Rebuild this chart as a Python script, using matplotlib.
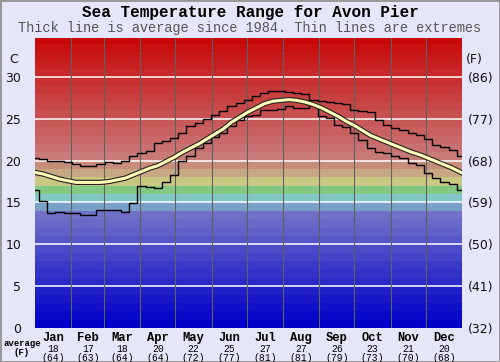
import numpy as np
import matplotlib.pyplot as plt
from matplotlib import patheffects as pe

# weekly sea temperatures (C), day of year = week * 7
week_day = [i * 7 for i in range(53)]
sea_min = [16.5, 15.2, 13.8, 13.9, 13.8, 13.8, 13.5, 13.5, 14.1, 14.1,
           14.1, 13.9, 14.9, 17.0, 16.9, 16.7, 17.5, 18.3, 19.9, 20.5,
           21.5, 22.1, 22.8, 23.3, 24.1, 24.9, 25.3, 25.5, 26.0, 26.0,
           26.2, 26.5, 26.3, 26.3, 26.6, 25.3, 25.1, 24.3, 24.0, 23.3,
           22.5, 21.5, 21.0, 20.9, 20.5, 20.3, 19.7, 19.5, 18.5, 17.9,
           17.5, 17.2, 16.5]
sea_avg = [18.6, 18.4, 18.1, 17.8, 17.6, 17.4, 17.4, 17.4, 17.4, 17.5,
           17.7, 17.9, 18.3, 18.7, 19.1, 19.4, 19.9, 20.4, 21.0, 21.5,
           22.0, 22.6, 23.2, 23.8, 24.6, 25.2, 25.8, 26.3, 26.8, 27.1,
           27.2, 27.3, 27.2, 27.0, 26.7, 26.3, 25.8, 25.3, 24.7, 24.2,
           23.6, 23.0, 22.6, 22.2, 21.8, 21.4, 21.0, 20.7, 20.3, 19.9,
           19.5, 19.1, 18.6]
sea_max = [20.3, 20.2, 20.0, 19.9, 19.8, 19.6, 19.4, 19.4, 19.6, 19.8,
           19.7, 20.0, 20.5, 20.9, 21.1, 22.1, 22.3, 22.7, 23.3, 24.1,
           24.5, 25.0, 25.4, 25.9, 26.5, 26.9, 27.2, 27.7, 28.1, 28.3,
           28.3, 28.2, 28.1, 28.0, 27.3, 27.1, 27.0, 26.9, 26.8, 26.0,
           25.9, 25.8, 24.9, 24.3, 23.9, 23.7, 23.3, 23.1, 22.6, 21.9,
           21.6, 21.3, 20.5]

months = ["Jan", "Feb", "Mar", "Apr", "May", "Jun",
          "Jul", "Aug", "Sep", "Oct", "Nov", "Dec"]
month_avg_c = [18, 17, 18, 20, 22, 25, 27, 27, 26, 23, 21, 20]
month_avg_f = [64, 63, 64, 64, 72, 77, 81, 81, 79, 73, 70, 68]
month_starts = [0, 31, 59, 90, 120, 151, 181, 212, 243, 273, 304, 334, 365]

c_ticks = [0, 5, 10, 15, 20, 25, 30]
f_labels = ["(32)", "(41)", "(50)", "(59)", "(68)", "(77)", "(86)"]

# one colour band per degree C
band_colors = [
    "#0000c8", "#0808c8", "#1010c8", "#1818c8", "#2020c8",
    "#2a2ac8", "#3232c8", "#3a3ac8", "#4444c8", "#4c4cc8",
    "#5656c8", "#6060c8", "#6868c8", "#7070c8", "#78a0c8",
    "#82c8c8", "#82c882", "#c8c882", "#c8a882", "#c88c7a",
    "#c87a76", "#c87070", "#c86868", "#c86060", "#c85858",
    "#c85050", "#c84848", "#c84040", "#c83838", "#c83030",
    "#c82828", "#c82020", "#c81818", "#c81010", "#c80808",
]

bg = "#e6e6fa"
fig = plt.figure(figsize=(5, 3.62), dpi=100, facecolor=bg,
                 edgecolor="#999999", linewidth=1)
ax = fig.add_axes([0.07, 0.094, 0.854, 0.801])

for t, col in enumerate(band_colors):
    ax.axhspan(t, t + 1, color=col, lw=0, zorder=0)

for t in c_ticks[1:]:
    ax.axhline(t, color="white", lw=1.1, zorder=1)
for d in month_starts[1:-1]:
    ax.axvline(d, color="#606060", lw=0.8, zorder=1)

ax.plot(week_day, sea_max, color="black", lw=1.0, drawstyle="steps-mid", zorder=3)
ax.plot(week_day, sea_min, color="black", lw=1.0, drawstyle="steps-mid", zorder=3)
ax.plot(week_day, sea_avg, color="#ffffb8", lw=2.2, zorder=4,
        path_effects=[pe.Stroke(linewidth=3.8, foreground="#222222"), pe.Normal()])

ax.set_xlim(0, 365)
ax.set_ylim(0, 34.66)
ax.set_xticks([])
ax.set_yticks(c_ticks)
ax.set_yticklabels([str(t) for t in c_ticks], fontsize=9, color="#111111")
ax.tick_params(axis="y", length=0, pad=10)
for s in ax.spines.values():
    s.set_visible(False)

ax2 = ax.twinx()
ax2.set_ylim(ax.get_ylim())
ax2.set_yticks(c_ticks)
ax2.set_yticklabels(f_labels, fontsize=9, color="#111111")
ax2.tick_params(axis="y", length=0, pad=4)
for s in ax2.spines.values():
    s.set_visible(False)

ax.text(-0.04, 32.1, "C", transform=ax.get_yaxis_transform(),
        ha="right", va="center", fontsize=9, color="#111111")
ax.text(1.01, 32.1, "(F)", transform=ax.get_yaxis_transform(),
        ha="left", va="center", fontsize=9, color="#111111")

trans = ax.get_xaxis_transform()
for i, m in enumerate(months):
    mid = (month_starts[i] + month_starts[i + 1]) / 2
    ax.text(mid, -0.013, m, transform=trans, ha="center", va="top",
            family="Liberation Mono", fontweight="bold", fontsize=8.7)
    ax.text(mid, -0.055, str(month_avg_c[i]), transform=trans, ha="center",
            va="top", family="Liberation Mono", fontsize=7)
    ax.text(mid, -0.088, "(%d)" % month_avg_f[i], transform=trans, ha="center",
            va="top", family="Liberation Mono", fontsize=7)

fig.text(0.044, 0.052, "average", ha="center", va="center",
         family="Liberation Mono", fontweight="bold", fontsize=6.5)
fig.text(0.044, 0.027, "(F)", ha="center", va="center",
         family="Liberation Mono", fontweight="bold", fontsize=6.5)

fig.text(0.5, 0.965, "Sea Temperature Range for Avon Pier", ha="center",
         va="center", family="Liberation Mono", fontweight="bold", fontsize=11.5)
fig.text(0.5, 0.922, "Thick line is average since 1984. Thin lines are extremes",
         ha="center", va="center", family="Liberation Mono", fontsize=9.8,
         color="#555555")

fig.savefig("out.png", dpi=100, facecolor=bg, edgecolor="#999999")
